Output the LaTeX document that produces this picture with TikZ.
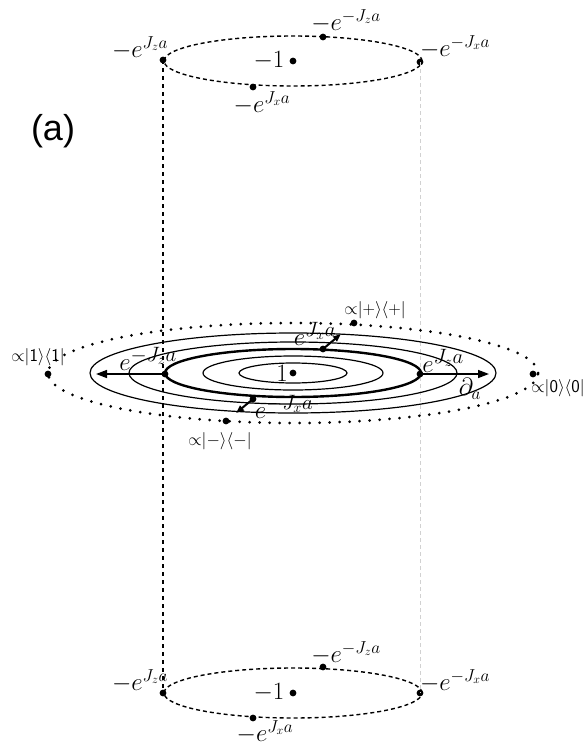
\documentclass[tikz,border=0pt]{standalone}
\usepackage{fontspec}
\newfontfamily\labelfont{Liberation Sans}
\usetikzlibrary{arrows.meta}
\tikzset{
  lbl/.style={inner sep=0pt, font=\fontsize{24}{27}\selectfont},
  mlbl/.style={inner sep=0pt, font=\fontsize{28}{31}\selectfont},
  slbl/.style={inner sep=0pt, font=\fontsize{18}{21}\selectfont},
  dashell/.style={line width=1.4pt, dash pattern=on 4pt off 3pt},
  dotell/.style={line width=3pt, line cap=round, dash pattern=on 0pt off 10pt},
  thin/.style={line width=1.2pt},
  thick2/.style={line width=2.4pt},
  arr/.style={line width=1.5pt, -{Triangle[length=11pt,width=8pt]}},
  sarr/.style={line width=2pt, -{Triangle[length=8pt,width=6pt]}},
}
\newcommand{\dotat}[1]{\fill (#1) circle (3.4pt);}
\newcommand{\pr}{\mathord{\propto}}
\begin{document}
\begin{tikzpicture}[x=1pt,y=-1pt]
\useasboundingbox[fill=white] (0,0) rectangle (588,747);

% ---------- top ellipse ----------
\coordinate (tc) at (293,61);
\coordinate (tl) at (163,60);
\coordinate (tr) at (420,62);
\coordinate (tt) at (323,37);
\coordinate (tb) at (253,87);
\draw[dashell] (tc) ellipse [x radius=129pt, y radius=25pt];
\foreach \p in {tc,tl,tr,tt,tb} {\dotat{\p}}
\node[lbl] (tlL) at (140,48) {$-e^{J_z a}$};
\node[lbl] (ttL) at (346,21) {$-e^{-J_z a}$};
\node[lbl] (trL) at (455,47) {$-e^{-J_x a}$};
\node[lbl] (tbL) at (262,103) {$-e^{J_x a}$};
\node[lbl] (tcL) at (269,61) {$-1$};

% ---------- bottom ellipse ----------
\coordinate (bc) at (293,693);
\coordinate (bl) at (163,693);
\coordinate (br) at (420,693);
\coordinate (bt) at (323,667);
\coordinate (bb) at (253,718);
\draw[dashell] (bc) ellipse [x radius=129pt, y radius=25pt];
\foreach \p in {bc,bl,br,bt,bb} {\dotat{\p}}
\node[lbl] (blL) at (140,681) {$-e^{J_z a}$};
\node[lbl] (btL) at (346,653) {$-e^{-J_z a}$};
\node[lbl] (brL) at (455,681) {$-e^{-J_x a}$};
\node[lbl] (bbL) at (265,732) {$-e^{J_x a}$};
\node[lbl] (bcL) at (269,693) {$-1$};

% ---------- vertical lines ----------
\draw[line width=1.4pt, dash pattern=on 4pt off 4pt] (tl) -- (bl);
\draw[line width=1pt, black!18, dash pattern=on 4pt off 3pt] (tr) -- (br);

% ---------- middle ----------
\coordinate (mc) at (293,373);
\draw[dotell] (mc) ellipse [x radius=245pt, y radius=50pt];
\draw[thin] (mc) ellipse [x radius=203pt, y radius=40pt];
\draw[thin] (mc) ellipse [x radius=164pt, y radius=31pt];
\draw[thick2] (mc) ellipse [x radius=128pt, y radius=24pt];
\draw[thin] (mc) ellipse [x radius=90pt, y radius=17pt];
\draw[thin] (mc) ellipse [x radius=54pt, y radius=10pt];

\coordinate (ml) at (165,374);
\coordinate (mr) at (420,374);
\coordinate (mlE) at (96,374);
\coordinate (mrE) at (489,374);
\coordinate (mu) at (323,349);
\coordinate (muE) at (341,334);
\coordinate (md) at (253,399);
\coordinate (mdE) at (236,413);
\draw[arr] (ml) -- (mlE);
\draw[arr] (mr) -- (mrE);
\draw[sarr] (mu) -- (muE);
\draw[sarr] (md) -- (mdE);
\foreach \p in {mc,ml,mr,mu,md} {\dotat{\p}}

\coordinate (o1) at (48,374);
\coordinate (o0) at (533,374);
\coordinate (op) at (354,323);
\coordinate (om) at (226,421);
\foreach \p in {o1,o0,op,om} {\dotat{\p}}

\node[lbl] (mcL) at (282,373) {$1$};
\node[mlbl] (mlL) at (148,359) {$e^{-J_z a}$};
\node[mlbl] (mrL) at (443,361) {$e^{J_z a}$};
\node[lbl] (daL) at (470,389) {$\partial_a$};
\node[mlbl] (muL) at (315,334) {$e^{J_x a}$};
\node[mlbl] (mdL) at (284,407) {$e^{-J_x a}$};

\node[slbl] (o1L) at (38,357) {$\pr|\mathsf{1}\rangle\langle\mathsf{1}|$};
\node[slbl] (opL) at (375,310) {$\pr|{+}\rangle\langle{+}|$};
\node[slbl] (o0L) at (558,388) {$\pr|\mathsf{0}\rangle\langle\mathsf{0}|$};
\node[slbl] (omL) at (220,441) {$\pr|{-}\rangle\langle{-}|$};

\node[inner sep=0pt, font=\labelfont\fontsize{36}{40}\selectfont] (aL) at (53,131) {(a)};
\end{tikzpicture}
\end{document}
